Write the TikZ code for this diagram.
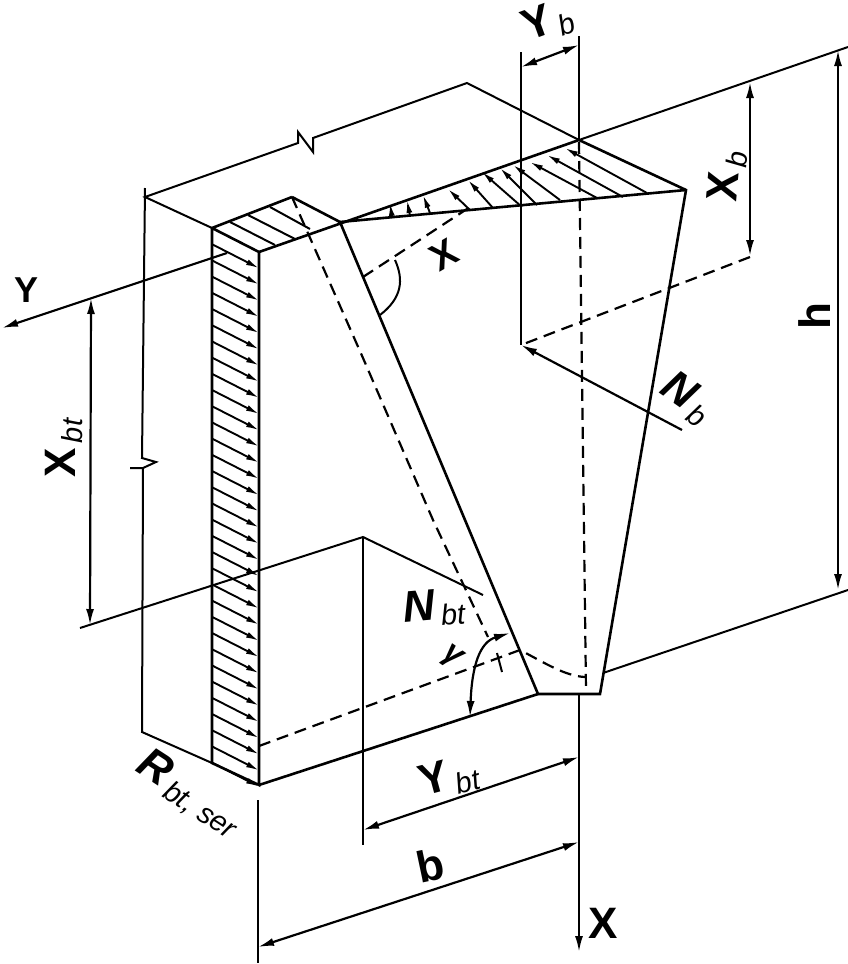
\documentclass[tikz,border=0pt]{standalone}
\usepackage{fontspec}
\setsansfont{Liberation Sans}
\usetikzlibrary{arrows.meta}
\tikzset{thick line/.style = {line width = 2.6}}
\tikzset{thin line/.style = {line width = 2.0}}
\tikzset{dash line/.style = {line width = 2.2, dash pattern = on 12 off 7}}
\tikzset{dim/.style = {line width = 2.2, >={Latex[length=16, width=8]}}}
\tikzset{hatch/.style = {line width = 1.9, -{Latex[length=13, width=6]}}}
\tikzset{letter/.style = {inner sep = 0, font = \sffamily\bfseries\fontsize{44}{44}\selectfont}}
\tikzset{slant/.style = {letter, font = \sffamily\bfseries\itshape\fontsize{44}{44}\selectfont}}
\newcommand{\lab}[2]{#1{\mdseries\itshape\fontsize{29}{29}\selectfont\raisebox{-7pt}{\,#2}}}

\begin{document}
\begin{tikzpicture}[x=1pt, y=-1pt]
    \useasboundingbox (0, 0) rectangle (848, 964);

    % corners of the block
    \coordinate (backtop) at (292, 197);
    \coordinate (lefttop) at (212, 228);
    \coordinate (fronttop) at (259, 252);
    \coordinate (leftbot) at (212, 763);
    \coordinate (frontbot) at (259, 785);
    \coordinate (slope) at (340, 222);
    \coordinate (axis) at (579, 140);
    \coordinate (tip) at (686, 190);
    \coordinate (footl) at (538, 694);
    \coordinate (footr) at (600, 694);
    \coordinate (bload) at (521, 345);
    \coordinate (btload) at (363, 537);

    % hatching of the side
    \foreach \y in {1, ..., 33}
      \draw [hatch] (212, 228 + 16.2 * \y) -- (259, 252 + 16.2 * \y);
    % hatching of the top
    \foreach \xa/\ya/\xb/\yb in {230/222/275/245, 248/215/295/239, 270/207/310/229}
      \draw [thin line] (\xa, \ya) -- (\xb, \yb);
    \foreach \xa/\ya/\xb/\yb in {647/193/565/148, 623/197/547/155, 597/198/530/162,
                                 560/200/513/165, 537/205/500/168, 522/207/482/172,
                                 493/208/468/180, 470/210/448/189, 430/213/423/195,
                                 410/216/407/200, 392/217/390/203}
      \draw [hatch] (\xa, \ya) -- (\xb, \yb);

    % block outline
    \draw [thick line] (backtop) -- (lefttop) -- (leftbot) -- (frontbot) -- (fronttop) -- (lefttop);
    \draw [thick line] (fronttop) -- (axis) -- (tip) -- (footr) -- (footl) -- (slope) -- (backtop);
    \draw [thick line] (slope) -- (tip);
    \draw [thick line] (frontbot) -- (footl);

    % dashed lines
    \draw [dash line] (backtop) -- (363, 358) -- (433, 520) -- (488, 637);
    \draw [dash line] (579, 142) -- (586, 690);
    \draw [dash line] (259, 746) -- (520, 650) .. controls (545, 663) and (565, 676) .. (585, 677);
    \draw [dash line] (363, 277) -- (470, 207);
    \draw [dash line] (750, 257) -- (bload);

    % top and left outline with breaks
    \draw [thin line] (lefttop) -- (145, 197) -- (298, 143) -- (298, 132) -- (313, 152) -- (313, 138)
                      -- (467, 83) -- (axis);
    \draw [thin line] (145, 188) -- (142, 458) -- (156, 462) -- (143, 468) -- (130, 468);
    \draw [thin line] (143, 468) -- (142, 732) -- (leftbot);
    \draw [thin line] (axis) -- (848, 47);
    \draw [thin line] (603, 673) -- (848, 590);

    % axes
    \draw [dim, ->] (227, 253) -- (2, 328);
    \draw [dim, ->] (579, 694) -- (579, 952);
    \draw [thick line] (521, 52) -- (bload);
    \draw [thick line] (579, 36) -- (axis);
    \draw [dim, <-] (bload) -- (682, 430);
    \draw [thin line] (80, 628) -- (btload) -- (483, 595);
    \draw [thick line] (btload) -- (363, 845);
    \draw [thick line] (258, 800) -- (258, 963);

    % dimensions
    \draw [dim, <->] (521, 67) -- (579, 45);
    \draw [dim, <->] (750, 82) -- (750, 256);
    \draw [dim, <->] (838, 50) -- (838, 590);
    \draw [dim, <->] (91, 298) -- (90, 625);
    \draw [dim, <->] (363, 830) -- (579, 757);
    \draw [dim, <->] (258, 947) -- (579, 842);

    % angles
    \draw [thin line] (395, 260) .. controls (404, 280) and (402, 298) .. (380, 315);
    \draw [dim, <->] (510, 633) .. controls (480, 642) and (472, 665) .. (470, 717);
    \draw [thin line] (497, 653) -- (502, 672);

    % labels
    \node (laby) [letter, font=\sffamily\bfseries\fontsize{36}{36}\selectfont] at (27, 290) {Y};
    \node (labyb) [letter, rotate=20] at (548, 22) {\lab{Y}{b}};
    \node (labxb) [letter, rotate=85] at (727, 176) {\lab{X}{b}};
    \node (labh) [letter, rotate=90] at (815, 316) {h};
    \node (labnb) [slant, rotate=-35] at (687, 398) {\lab{N}{b}};
    \node (labxbt) [letter, rotate=90] at (64, 448) {\lab{X}{bt}};
    \node (labang) [letter, rotate=30, font=\sffamily\bfseries\fontsize{38}{38}\selectfont] at (444, 255) {X};
    \node (labnbt) [slant, rotate=5] at (434, 608) {\lab{N}{bt}};
    \node (labgam) [letter, rotate=-35, font=\sffamily\bfseries\itshape\fontsize{32}{32}\selectfont] at (452, 657) {γ};
    \node (labybt) [letter, rotate=15] at (449, 778) {\lab{Y}{bt}};
    \node (labb) [letter, rotate=12] at (430, 865) {b};
    \node (labx) [letter] at (603, 923) {X};
    \node (labr) [slant, rotate=-33] at (189, 794) {\lab{R}{bt, ser}};
  \end{tikzpicture}
\end{document}
